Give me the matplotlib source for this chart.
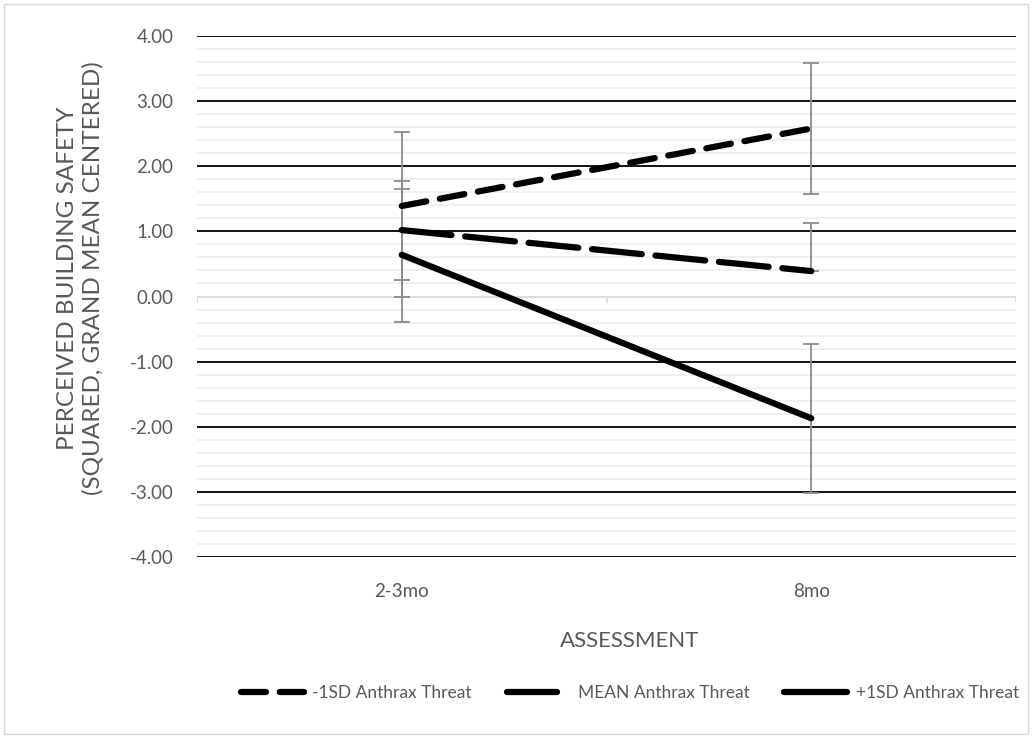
import matplotlib.pyplot as plt
import numpy as np
from matplotlib.lines import Line2D
from matplotlib.patches import Rectangle

plt.rcParams['font.family'] = ['Lato', 'DejaVu Sans']

categories = ['2-3mo', '8mo']
y_ticks = [-4, -3, -2, -1, 0, 1, 2, 3, 4]

minus_sd = [1.39, 2.58]
minus_sd_err_low = [1.14, 1.00]
minus_sd_err_high = [1.14, 1.00]

mean_threat = [1.02, 0.39]
mean_err_low = [1.02, 0.0]
mean_err_high = [0.76, 0.74]

plus_sd = [0.64, -1.87]
plus_sd_err_low = [1.03, 1.15]
plus_sd_err_high = [1.01, 1.14]

labels = ['-1SD Anthrax Threat', 'MEAN Anthrax Threat', '+1SD Anthrax Threat']

text_grey = '#595959'
err_grey = '#8c8c8c'

fig = plt.figure(figsize=(10.32, 7.38), dpi=100)
ax = fig.add_axes([197 / 1032, 1 - 557 / 738, 819 / 1032, 521 / 738])

x = np.arange(len(categories))

# light minor grid every 0.2, black major grid on whole units
for v in np.arange(-4, 4.01, 0.2):
    if abs(v - round(v)) > 1e-6:
        ax.axhline(v, color='#efefef', lw=1.3, zorder=0)
for v in y_ticks:
    if v != 0:
        ax.axhline(v, color='black', lw=1.3, zorder=1)

# category axis crossing at zero
ax.axhline(0, color='#d9d9d9', lw=1.3, zorder=1)
for xt in [-0.5, 0.5, 1.5]:
    ax.plot([xt, xt], [0, -0.1], color='#d9d9d9', lw=1.3, zorder=1,
            solid_capstyle='butt')

series = [
    (minus_sd, minus_sd_err_low, minus_sd_err_high, (4, 2.2)),
    (mean_threat, mean_err_low, mean_err_high, (8, 2.2)),
    (plus_sd, plus_sd_err_low, plus_sd_err_high, None),
]

for vals, lo, hi, dash in series:
    ax.errorbar(x, vals, yerr=[lo, hi], fmt='none', ecolor=err_grey,
                elinewidth=1.3, capsize=5.5, capthick=1.3, zorder=2)
    line, = ax.plot(x, vals, color='black', lw=4.5, zorder=3,
                    solid_capstyle='round', dash_capstyle='round')
    if dash is not None:
        line.set_dashes(dash)

ax.set_xlim(-0.5, 1.5)
ax.set_ylim(-4, 4)
ax.set_yticks(y_ticks)
ax.set_yticklabels(['%.2f' % v for v in y_ticks])
ax.set_xticks(x)
ax.set_xticklabels(categories)
ax.tick_params(axis='both', length=0, labelsize=13.5, labelcolor=text_grey)
ax.tick_params(axis='x', pad=19)
ax.tick_params(axis='y', pad=17)
for s in ax.spines.values():
    s.set_visible(False)

fig.text(630 / 1032, 1 - 641 / 738, 'ASSESSMENT', ha='center', va='center',
         fontsize=16, color=text_grey)
fig.text(80 / 1032, 1 - 278 / 738,
         'PERCEIVED BUILDING SAFETY\n(SQUARED, GRAND MEAN CENTERED)',
         rotation=90, ha='center', va='center', fontsize=17.5,
         color=text_grey, linespacing=1.25)

handles = []
for vals, lo, hi, dash in series:
    h = Line2D([0], [0], color='black', lw=4.5, solid_capstyle='round',
               dash_capstyle='round')
    if dash is not None:
        h.set_dashes(dash)
    handles.append(h)
fig.legend(handles, labels, loc='center', ncol=3, frameon=False,
           bbox_to_anchor=(630 / 1032, 1 - 693 / 738), fontsize=12.5,
           labelcolor=text_grey, handlelength=3.6, handletextpad=0.5,
           columnspacing=2.0)

fig.patches.append(Rectangle((4 / 1032, 4 / 738), 1024 / 1032, 730 / 738,
                             transform=fig.transFigure, fill=False,
                             edgecolor='#d9d9d9', lw=1))

fig.savefig('out.png', dpi=100)
